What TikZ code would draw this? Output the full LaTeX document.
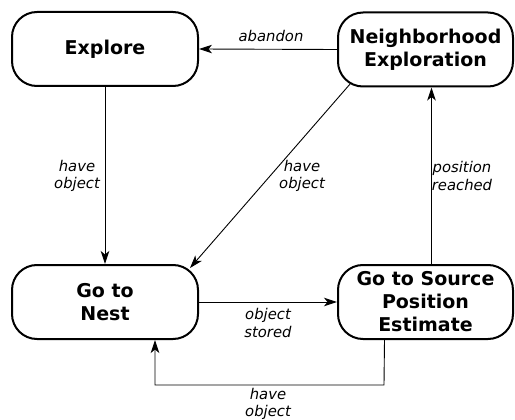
\documentclass[tikz,border=0pt]{standalone}
\usepackage{fontspec}
\setmainfont{DejaVu Sans}
\usetikzlibrary{arrows.meta,calc}
\begin{document}
\begin{tikzpicture}[x=1pt,y=-1pt,
  state/.style={draw, line width=2pt, rounded corners=25pt, minimum height=74pt, align=center,
    font=\bfseries\fontsize{19}{23}\selectfont, inner sep=0pt},
  conn/.style={draw, line width=0.9pt, -{Stealth[length=13pt,width=8.5pt,inset=3.5pt]}},
  lab/.style={font=\itshape\fontsize{14.8}{17.5}\selectfont, align=center, inner sep=0pt}]
\useasboundingbox (0,0) rectangle (515,420);
\node[state, minimum width=186pt] (exp) at (105,49) {Explore};
\node[state, minimum width=175pt] (nbr) at (425.5,49.5) {Neighborhood\\Exploration};
\node[state, minimum width=186pt] (nest) at (105,302) {Go to\\Nest};
\node[state, minimum width=175pt] (src) at (425.5,302) {Go to Source\\Position\\Estimate};
% abandon
\draw[conn] (nbr.west) -- (exp.east);
\node[lab] (l1) at (271,36) {abandon};
% explore -> nest
\draw[conn] (exp.south) -- (nest.north);
\node[lab] (l2) at (77,176) {have\\object};
% nbr -> nest diagonal
\draw[conn] ($(nbr.center)+(-75,34)$) -- ($(nest.center)+(85,-34)$);
\node[lab] (l3) at (302,176) {have\\object};
% src -> nbr
\draw[conn] ($(src.north)+(6,0)$) -- ($(nbr.south)+(6,0)$);
\node[lab] (l4) at (462,176) {position\\reached};
% nest -> src
\draw[conn] (nest.east) -- (src.west);
\node[lab] (l5) at (268,323) {object\\stored};
% src -> nest loop
\coordinate (c1) at (384,385);
\coordinate (c2) at (155,385);
\draw[conn] ($(src.south)+(-41,0)$) -- (c1) -- (c2) -- ($(nest.south)+(50,0)$);
\node[lab] (l6) at (268,404) {have\\object};
\end{tikzpicture}
\end{document}
